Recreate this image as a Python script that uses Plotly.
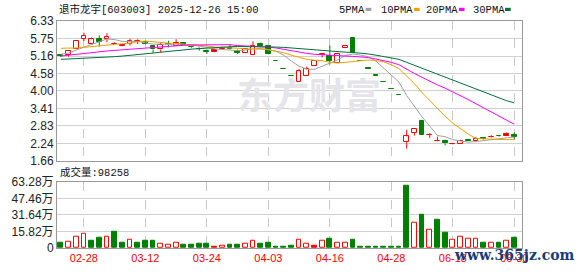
import plotly.graph_objects as go

# ---------------- data ----------------
x_tick_idx = [3, 11, 19, 27, 35, 43, 51, 59]
x_tick_txt = ["02-28", "03-12", "03-24", "04-03", "04-16", "04-28", "06-18", "06-30"]

price_ticks = [1.66, 2.24375, 2.8275, 3.41125, 3.995, 4.57875, 5.1625, 5.74625, 6.33]
price_tick_txt = ["1.66", "2.24", "2.83", "3.41", "4.00", "4.58", "5.16", "5.75", "6.33"]

vol_ticks = [0, 158200, 316400, 474600, 632800]
vol_tick_txt = ["0", "15.82万", "31.64万", "47.46万", "63.28万"]

open_ = [5.18, 5.20, 5.38, 5.73, 5.56, 5.72, 5.72, 5.55, 5.50, 5.56,
         5.66, 5.64, 5.49, 5.38, 5.56, 5.51, 5.59, 5.46, 5.40, 5.32,
         5.36, 5.38, 5.43, 5.33, 5.26, 5.18, 5.57, 5.49, 4.98, 4.73,
         4.49, 4.30, 4.48, 4.84, 5.19, 5.16, 4.93, 5.42, 5.76, 4.99,
         4.74, 4.50, 4.28, 4.06, 3.86, 2.29, 2.59, 3.00, 2.52, 2.32,
         2.32, 2.22, 2.24, 2.34, 2.34, 2.40, 2.45, 2.48, 2.56, 2.54]
high = [5.22, 5.36, 5.65, 5.94, 5.78, 5.85, 5.92, 5.62, 5.55, 5.74,
        5.72, 5.67, 5.53, 5.62, 5.67, 5.72, 5.59, 5.48, 5.45, 5.38,
        5.36, 5.48, 5.55, 5.38, 5.43, 5.65, 5.61, 5.52, 4.98, 4.73,
        4.49, 4.73, 4.81, 5.01, 5.22, 5.51, 5.22, 5.48, 5.79, 4.99,
        4.74, 4.50, 4.28, 4.06, 3.86, 2.70, 2.73, 3.00, 2.59, 2.47,
        2.37, 2.24, 2.37, 2.35, 2.46, 2.42, 2.52, 2.50, 2.61, 2.61]
low = [5.13, 5.14, 5.38, 5.66, 5.53, 5.48, 5.62, 5.55, 5.49, 5.51,
       5.56, 5.55, 5.27, 5.27, 5.45, 5.51, 5.53, 5.42, 5.34, 5.23,
       5.29, 5.38, 5.37, 5.23, 5.26, 5.18, 5.48, 5.22, 4.98, 4.73,
       4.49, 4.30, 4.48, 4.84, 5.12, 4.88, 4.93, 5.42, 5.25, 4.99,
       4.74, 4.50, 4.28, 4.06, 3.86, 2.07, 2.51, 2.52, 2.43, 2.32,
       2.18, 2.21, 2.24, 2.34, 2.34, 2.38, 2.45, 2.47, 2.49, 2.37]
close = [5.17, 5.34, 5.65, 5.83, 5.72, 5.64, 5.81, 5.57, 5.53, 5.66,
         5.66, 5.56, 5.38, 5.54, 5.55, 5.58, 5.53, 5.45, 5.40, 5.30,
         5.31, 5.42, 5.38, 5.27, 5.40, 5.51, 5.49, 5.24, 4.98, 4.73,
         4.49, 4.65, 4.73, 5.01, 5.22, 4.99, 5.22, 5.48, 5.25, 4.99,
         4.74, 4.50, 4.28, 4.06, 3.86, 2.48, 2.73, 2.52, 2.52, 2.32,
         2.25, 2.22, 2.32, 2.34, 2.41, 2.40, 2.45, 2.48, 2.49, 2.46]
# u = red hollow, d = green filled, f = red filled
candle_style = "duuuuduuuu" "uddududddd" "fudduudddd" "duuuuduudd" "ddddduuduu" "duudududfd"

volume = [55000, 62000, 108000, 136000, 74000, 102000, 108000, 157000, 55000, 77000,
          55000, 74000, 65000, 43000, 34000, 52000, 28000, 28000, 37000, 37000,
          15000, 25000, 28000, 28000, 43000, 71000, 37000, 49000, 9000, 9000,
          18000, 83000, 37000, 18000, 65000, 86000, 46000, 46000, 77000, 9000,
          9000, 9000, 9000, 9000, 9000, 595000, 240000, 314000, 176000, 268000,
          148000, 80000, 108000, 90000, 90000, 55000, 46000, 46000, 74000, 98258]
vol_style = "duuudduddu" "ddduuudddd" "fudduudddd" "duufuduudd" "ddddddudud" "duuuududud"

ma5 = [5.22, 5.26, 5.36, 5.46, 5.54, 5.64, 5.73, 5.71, 5.65, 5.64,
       5.65, 5.60, 5.56, 5.56, 5.54, 5.52, 5.52, 5.53, 5.50, 5.45,
       5.40, 5.38, 5.36, 5.34, 5.36, 5.40, 5.41, 5.38, 5.32, 5.19,
       4.99, 4.82, 4.72, 4.72, 4.82, 4.92, 5.03, 5.18, 5.23, 5.19,
       5.14, 4.99, 4.75, 4.51, 4.29, 3.84, 3.48, 3.13, 2.82, 2.51,
       2.47, 2.37, 2.33, 2.29, 2.31, 2.34, 2.38, 2.42, 2.45, 2.46]
ma10 = [5.42, 5.42, 5.43, 5.45, 5.48, 5.50, 5.53, 5.55, 5.57, 5.59,
        5.64, 5.66, 5.64, 5.61, 5.59, 5.58, 5.56, 5.54, 5.53, 5.50,
        5.46, 5.45, 5.45, 5.42, 5.40, 5.40, 5.39, 5.37, 5.33, 5.27,
        5.19, 5.11, 5.05, 5.02, 5.01, 4.95, 4.93, 4.95, 4.98, 5.00,
        5.03, 5.01, 4.97, 4.87, 4.74, 4.49, 4.24, 3.94, 3.67, 3.40,
        3.15, 2.92, 2.73, 2.56, 2.41, 2.40, 2.38, 2.37, 2.37, 2.38]
ma20 = [5.16, 5.19, 5.22, 5.26, 5.29, 5.31, 5.33, 5.35, 5.37, 5.39,
        5.40, 5.43, 5.45, 5.47, 5.50, 5.51, 5.52, 5.53, 5.53, 5.54,
        5.55, 5.55, 5.54, 5.51, 5.50, 5.49, 5.47, 5.46, 5.43, 5.38,
        5.33, 5.28, 5.25, 5.22, 5.20, 5.18, 5.16, 5.16, 5.15, 5.14,
        5.11, 5.06, 5.01, 4.95, 4.87, 4.72, 4.58, 4.45, 4.32, 4.20,
        4.09, 3.97, 3.85, 3.71, 3.57, 3.44, 3.31, 3.16, 3.02, 2.89]
ma30 = [5.05, 5.06, 5.07, 5.08, 5.09, 5.10, 5.12, 5.14, 5.16, 5.18,
        5.20, 5.23, 5.26, 5.29, 5.32, 5.35, 5.37, 5.39, 5.41, 5.43,
        5.45, 5.46, 5.47, 5.48, 5.48, 5.48, 5.48, 5.47, 5.46, 5.45,
        5.43, 5.41, 5.38, 5.35, 5.33, 5.31, 5.29, 5.29, 5.28, 5.26,
        5.23, 5.19, 5.15, 5.11, 5.05, 4.95, 4.85, 4.75, 4.66, 4.56,
        4.46, 4.35, 4.25, 4.15, 4.05, 3.95, 3.85, 3.75, 3.67, 3.60]

title_txt = "退市龙宇[603003] 2025-12-26 15:00"
vol_title = "成交量:98258"
ma_names = ["5PMA", "10PMA", "20PMA", "30PMA"]

# ---------------- style ----------------
RED = "#ff0000"
GREEN = "#008000"
MA_COLORS = ["#a0a0a0", "#f0a000", "#ff00ff", "#00703c"]
MONO = "Liberation Mono, Noto Sans CJK SC, monospace"
SANS = "Liberation Sans, Noto Sans CJK SC, sans-serif"

W, H = 578, 276
ML, MR, MT, MB = 56, 56, 21, 21
PW, PH = W - ML - MR, H - MT - MB


def px_x(p):
    return (p - ML) / PW


def px_y(p):
    return (H - MB - p) / PH


n = len(close)
idx = list(range(n))


def fill_of(s):
    return {"u": "#ffffff", "d": GREEN, "f": RED}[s]


def edge_of(s):
    return GREEN if s == "d" else RED


fig = go.Figure()

# candle bodies
fig.add_trace(go.Bar(
    x=idx,
    base=[min(o, c) for o, c in zip(open_, close)],
    y=[max(abs(c - o), 0.012) for o, c in zip(open_, close)],
    width=0.62,
    marker=dict(color=[fill_of(s) for s in candle_style],
                line=dict(color=[edge_of(s) for s in candle_style], width=1)),
    xaxis="x", yaxis="y", hoverinfo="skip", showlegend=False,
))

# wicks
for colr, keep in ((RED, "uf"), (GREEN, "d")):
    xs, ys = [], []
    for i in idx:
        if candle_style[i] not in keep:
            continue
        top = max(open_[i], close[i])
        bot = min(open_[i], close[i])
        if high[i] > top:
            xs += [i, i, None]
            ys += [top, high[i], None]
        if low[i] < bot:
            xs += [i, i, None]
            ys += [low[i], bot, None]
    fig.add_trace(go.Scatter(x=xs, y=ys, mode="lines", line=dict(color=colr, width=1),
                             xaxis="x", yaxis="y", hoverinfo="skip", showlegend=False))

# moving averages
for ma, colr in zip([ma5, ma10, ma20, ma30], MA_COLORS):
    fig.add_trace(go.Scatter(x=idx, y=ma, mode="lines", line=dict(color=colr, width=1),
                             xaxis="x", yaxis="y", hoverinfo="skip", showlegend=False))

# volume
fig.add_trace(go.Bar(
    x=idx, y=volume, width=0.62,
    marker=dict(color=[fill_of(s) for s in vol_style],
                line=dict(color=[edge_of(s) for s in vol_style], width=1)),
    xaxis="x2", yaxis="y2", hoverinfo="skip", showlegend=False,
))

axis_common = dict(showline=True, mirror=True, linecolor="#999999", linewidth=1,
                   zeroline=False, ticks="", fixedrange=True)

price_bottom = px_y(165.3)
vol_top = px_y(186.7)

fig.update_layout(
    width=W, height=H,
    margin=dict(l=ML, r=MR, t=MT, b=MB, pad=0),
    paper_bgcolor="#ffffff", plot_bgcolor="#ffffff",
    showlegend=False, bargap=0,
    xaxis=dict(domain=[0, 1], range=[-0.5, 60], anchor="y",
               tickvals=x_tick_idx, showticklabels=False,
               showgrid=True, gridcolor="#c8c8c8", griddash="dash", gridwidth=1,
               **axis_common),
    xaxis2=dict(domain=[0, 1], range=[-0.5, 60], anchor="y2", matches="x",
                tickvals=x_tick_idx, ticktext=x_tick_txt,
                tickfont=dict(family=SANS, size=11, color=RED),
                showgrid=True, gridcolor="#c8c8c8", griddash="dash", gridwidth=1,
                **axis_common),
    yaxis=dict(domain=[price_bottom, 1], range=[1.66, 6.33], anchor="x",
               tickvals=price_ticks, ticktext=price_tick_txt,
               tickfont=dict(family=SANS, size=12, color="#222222"),
               showgrid=True, gridcolor="#d0d0d0", gridwidth=1,
               **axis_common),
    yaxis2=dict(domain=[0, vol_top], range=[0, 632800], anchor="x2",
                tickvals=vol_ticks, ticktext=vol_tick_txt,
                tickfont=dict(family=SANS, size=12, color="#222222"),
                showgrid=True, gridcolor="#d0d0d0", gridwidth=1,
                **axis_common),
)

annotations = []
# watermark
annotations.append(dict(xref="paper", yref="paper", x=px_x(309), y=px_y(95),
                        text="<b>东方财富</b>", showarrow=False,
                        font=dict(family="Noto Sans CJK SC", size=36, color="#e4e4e9"),
                        xanchor="center", yanchor="middle"))
# title
annotations.append(dict(xref="paper", yref="paper", x=px_x(56), y=px_y(9),
                        text=title_txt, showarrow=False,
                        font=dict(family=MONO, size=10.5, color="#111111"),
                        xanchor="left", yanchor="middle"))
# volume title
annotations.append(dict(xref="paper", yref="paper", x=px_x(57), y=px_y(177.5),
                        text=vol_title, showarrow=False,
                        font=dict(family=MONO, size=10.5, color="#111111"),
                        xanchor="left", yanchor="middle"))
# legend
leg_text_x = [337, 379, 424, 470.5]
leg_box_x = [365.3, 413.7, 458.7, 505.0]
shapes = []
for name, tx, bx, colr in zip(ma_names, leg_text_x, leg_box_x, MA_COLORS):
    annotations.append(dict(xref="paper", yref="paper", x=px_x(tx), y=px_y(9.3),
                            text=name, showarrow=False,
                            font=dict(family=MONO, size=10.5, color="#111111"),
                            xanchor="left", yanchor="middle"))
    shapes.append(dict(type="rect", xref="paper", yref="paper",
                       x0=px_x(bx), x1=px_x(bx + 5.7), y0=px_y(10.7), y1=px_y(7.4),
                       fillcolor=colr, line=dict(width=0)))
# site watermark
annotations.append(dict(xref="paper", yref="paper", x=px_x(514), y=px_y(262),
                        text="<b>www.365jz.com</b>", showarrow=False,
                        font=dict(family="DejaVu Serif", size=14, color="#1b3a78"),
                        xanchor="center", yanchor="middle"))

fig.update_layout(annotations=annotations, shapes=shapes)

fig.write_html("out.html", config={"displayModeBar": False})
